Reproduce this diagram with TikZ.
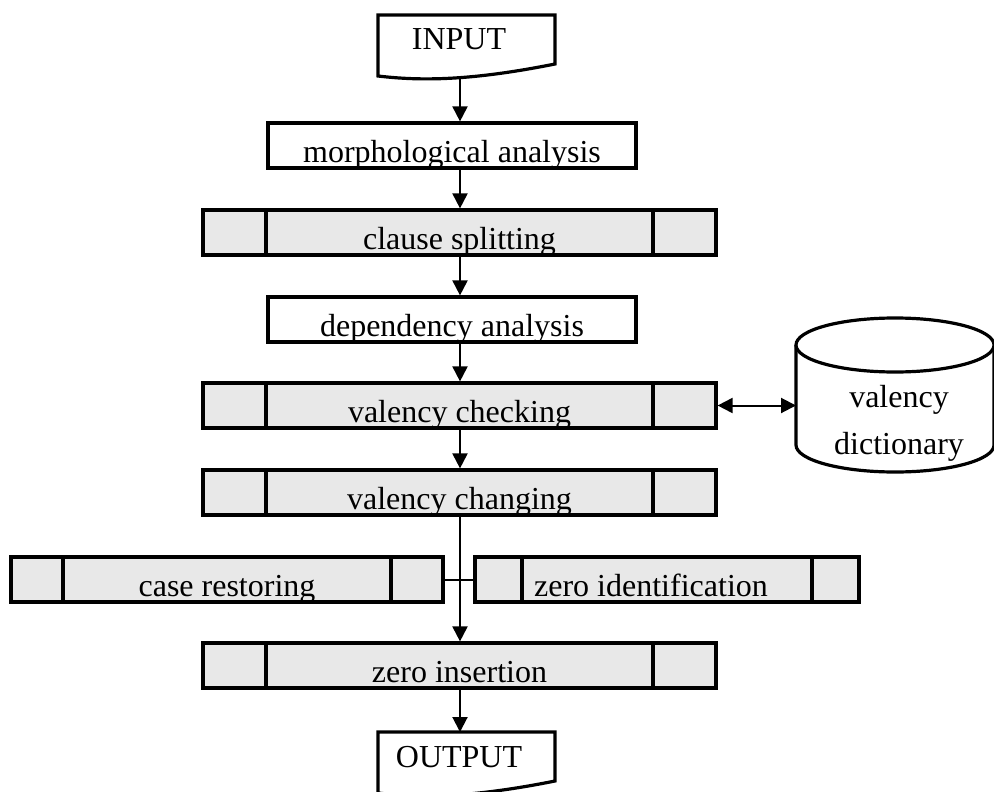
\documentclass[tikz,border=0pt]{standalone}
\usepackage{fontspec}
\setmainfont{Liberation Serif}
\usetikzlibrary{arrows.meta}
\definecolor{boxgray}{HTML}{E8E8E8}
\newcommand{\flowfont}{\fontsize{16pt}{23.5pt}\selectfont}
% label placed near the bottom of a box, clipped by the box outline
\newcommand{\boxlabel}[3][0pt]{\node[font=\flowfont, anchor=base, inner sep=0pt] (#2) at ([xshift=#1, yshift=2.6pt]path picture bounding box.south) {#3};}
% the two inner side bars of a predefined-process box
\newcommand{\sidebars}[1]{\draw[line width=1.6pt]
  ([xshift=#1]path picture bounding box.south west) -- ([xshift=#1]path picture bounding box.north west)
  ([xshift=-#1]path picture bounding box.south east) -- ([xshift=-#1]path picture bounding box.north east);}
\begin{document}
\begin{tikzpicture}[x=0.5pt, y=-0.5pt,
  box/.style={draw, line width=1.6pt, fill=white, rectangle, inner sep=0pt, minimum height=22.5pt},
  gbox/.style={box, fill=boxgray},
  flow/.style={line width=1pt, -{Triangle[length=7.5pt,width=7.5pt]}},
  dflow/.style={line width=1pt, {Triangle[length=7.5pt,width=7.5pt]}-{Triangle[length=7.5pt,width=7.5pt]}},
  link/.style={line width=1pt},
  shapeline/.style={line width=1.6pt},
  doclabel/.style={font=\flowfont, anchor=base, inner sep=0pt}]
\useasboundingbox (0,0) rectangle (994,791);

% main column of connectors
\coordinate (colx) at (460,0);

% INPUT document
\draw[shapeline, fill=white] (378,76) -- (378,15) -- (555,15) -- (555,64)
  .. controls (470,81) and (420,81) .. (378,76) -- cycle;
\node[doclabel] (input) at (459,50) {INPUT};
\coordinate (input-bot) at (460,79);

% processing steps
\node[box, minimum width=184pt, path picture={\boxlabel{morph-text}{morphological analysis}}] (morph) at (452,145.5) {};
\node[gbox, minimum width=256.5pt, path picture={\sidebars{31.5pt}\boxlabel{clause-text}{clause splitting}}] (clause) at (459.5,232.5) {};
\node[box, minimum width=184pt, path picture={\boxlabel{dep-text}{dependency analysis}}] (dep) at (452,319.5) {};
\node[gbox, minimum width=256.5pt, path picture={\sidebars{31.5pt}\boxlabel{vcheck-text}{valency checking}}] (vcheck) at (459.5,405.5) {};
\node[gbox, minimum width=256.5pt, path picture={\sidebars{31.5pt}\boxlabel{vchange-text}{valency changing}}] (vchange) at (459.5,492.5) {};
\node[gbox, minimum width=216pt, path picture={\sidebars{26pt}\boxlabel{case-text}{case restoring}}] (case) at (227,579.5) {};
\node[gbox, minimum width=192pt, path picture={\sidebars{23.5pt}\boxlabel[-8pt]{zero-text}{zero identification}}] (zeroid) at (667,579.5) {};
\node[gbox, minimum width=256.5pt, path picture={\sidebars{31.5pt}\boxlabel{zins-text}{zero insertion}}] (zins) at (459.5,665.5) {};

% OUTPUT document
\draw[shapeline, fill=white] (378,793) -- (378,732) -- (555,732) -- (555,781)
  .. controls (470,798) and (420,798) .. (378,793) -- cycle;
\node[doclabel] (output) at (459,767) {OUTPUT};
\coordinate (output-top) at (460,732);

% valency dictionary cylinder
\path[fill=white] (796,345) -- (796,445) arc[start angle=180, end angle=360, x radius=49.5pt, y radius=13.5pt] -- (994,345);
\draw[shapeline] (796,345) -- (796,445) arc[start angle=180, end angle=360, x radius=49.5pt, y radius=13.5pt] -- (994,345);
\draw[shapeline, fill=white] (895,345) ellipse[x radius=49.5pt, y radius=13.5pt];
\node[font=\flowfont, align=center, inner sep=0pt] (dict) at (899,423) {valency\\dictionary};
\coordinate (dict-left) at (796,407);

% connectors
\draw[flow] (input-bot) -- (morph.north -| colx);
\draw[flow] (morph.south -| colx) -- (clause.north -| colx);
\draw[flow] (clause.south -| colx) -- (dep.north -| colx);
\draw[flow] (dep.south -| colx) -- (vcheck.north -| colx);
\draw[flow] (vcheck.south -| colx) -- (vchange.north -| colx);
\draw[flow] (vchange.south -| colx) -- (zins.north -| colx);
\draw[link] (case.east) -- (zeroid.west);
\draw[flow] (zins.south -| colx) -- (output-top);
\draw[dflow] (vcheck.east) -- (vcheck.east -| dict-left);
\end{tikzpicture}
\end{document}
